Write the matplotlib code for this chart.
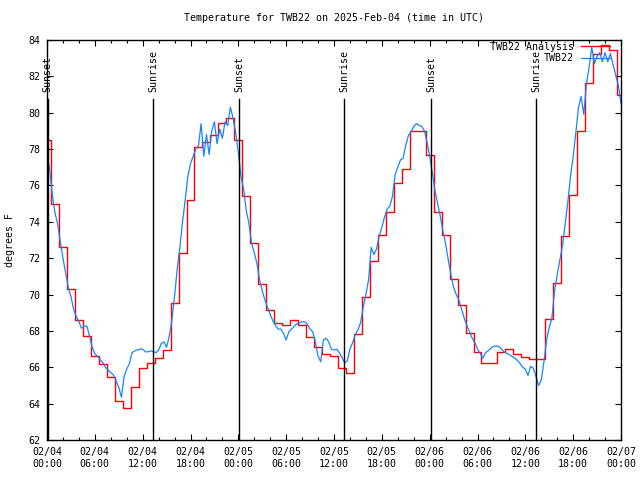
import matplotlib
matplotlib.use("Agg")
import matplotlib.pyplot as plt
import matplotlib.dates as mdates
import matplotlib.transforms as mtransforms
import numpy as np
import pandas as pd

# hourly analysis values (deg F), 2025-02-04 00:00 .. 02-07 00:00 UTC
analysis = [78.5, 75.0, 72.6, 70.3, 68.6, 67.72, 66.62, 66.16, 65.48, 64.15,
            63.74, 64.9, 65.94, 66.22, 66.49, 66.95, 69.52, 72.3, 75.2, 78.1,
            78.37, 78.77, 79.42, 79.7, 78.5, 75.4, 72.82, 70.58, 69.15, 68.42,
            68.33, 68.6, 68.33, 67.65, 67.13, 66.71, 66.62, 65.98, 65.67, 67.81,
            69.85, 71.86, 73.27, 74.56, 76.12, 76.89, 79.02, 79.02, 77.68, 74.52,
            73.27, 70.84, 69.43, 67.87, 66.82, 66.22, 66.22, 66.82, 66.99, 66.71,
            66.55, 66.44, 66.44, 68.66, 70.64, 73.2, 75.5, 79.0, 81.64, 83.23,
            83.75, 83.43, 81.0]

# station observations every 20 minutes
obs = [77.6, 76.9, 75.5, 74.5, 73.9, 72.9, 72.0, 71.2, 70.4, 69.9, 69.2, 68.8,
       68.5, 68.15, 68.25, 68.27, 67.7, 67.1, 66.75, 66.6, 66.43, 66.25, 66.0, 65.85,
       65.7, 65.58, 65.25, 64.9, 64.35, 65.5, 65.9, 66.2, 66.8, 66.9, 66.95, 67.0,
       67.0, 66.85, 66.85, 66.9, 66.86, 66.8, 66.95, 67.3, 67.4, 67.1, 67.7, 68.6,
       69.9, 71.4, 72.6, 74.0, 75.2, 76.5, 77.2, 77.6, 78.0, 78.2, 79.4, 77.6,
       78.8, 77.7, 79.0, 79.5, 78.3, 79.1, 78.6, 79.5, 79.3, 80.3, 79.7, 78.9,
       77.8, 76.5, 75.8, 74.6, 73.9, 72.8, 72.3, 71.7, 70.8, 70.2, 69.7, 69.3,
       68.9, 68.55, 68.3, 68.1, 68.1, 67.85, 67.5, 67.95, 68.1, 68.25, 68.4, 68.45,
       68.5, 68.5, 68.35, 68.1, 67.95, 67.4, 66.6, 66.3, 67.5, 67.6, 67.4, 67.0,
       66.95, 67.0, 66.8, 66.55, 66.25, 66.35, 67.0, 67.35, 67.8, 68.05, 68.45, 69.3,
       70.0, 70.8, 72.6, 72.2, 72.5, 73.2, 73.7, 74.25, 74.7, 74.85, 75.4, 76.6,
       77.0, 77.4, 77.5, 78.2, 78.75, 78.95, 79.25, 79.4, 79.3, 79.25, 79.0, 78.4,
       77.6, 76.7, 75.7, 75.0, 74.3, 73.5, 72.8, 71.9, 71.1, 70.4, 70.0, 69.7,
       69.2, 68.7, 68.3, 67.95, 67.6, 67.35, 67.0, 66.77, 66.5, 66.8, 66.9, 67.05,
       67.15, 67.17, 67.15, 67.0, 66.85, 66.77, 66.7, 66.6, 66.5, 66.38, 66.22, 66.0,
       65.9, 65.55, 66.05, 65.95, 65.5, 65.0, 65.3, 66.3, 67.5, 68.2, 68.7, 70.2,
       71.1, 71.9, 72.7, 73.9, 75.1, 76.5, 77.6, 78.9, 80.3, 80.9, 79.9, 81.6,
       82.5, 83.6, 82.7, 83.1, 83.3, 82.8, 83.3, 82.8, 83.25, 82.65, 82.1, 81.5,
       80.5]

sun_events = ["Sunset", "Sunrise", "Sunset", "Sunrise", "Sunset", "Sunrise"]
sun_times = ["2025-02-04 00:05", "2025-02-04 13:20", "2025-02-05 00:07",
             "2025-02-05 13:17", "2025-02-06 00:11", "2025-02-06 13:22"]

start = pd.Timestamp("2025-02-04 00:00")
t_analysis = pd.date_range(start, periods=len(analysis), freq="h")
t_obs = pd.date_range(start, periods=len(obs), freq="20min")

plt.rcParams["font.family"] = ["DejaVu Sans Mono"]
plt.rcParams["font.size"] = 7.2

fig = plt.figure(figsize=(6.4, 4.8), dpi=100)
ax = fig.add_axes([47 / 640, 40 / 480, 574 / 640, 400 / 480])

ax.plot(t_analysis, analysis, color="#ff0000", lw=1.0, drawstyle="steps-mid",
        label="TWB22 Analysis")
ax.plot(t_obs, obs, color="#1585ff", lw=0.9, label="TWB22")

trans = mtransforms.blended_transform_factory(ax.transData, ax.transAxes)
for name, t in zip(sun_events, sun_times):
    tt = pd.Timestamp(t)
    ax.axvline(tt, ymin=0, ymax=0.8525, color="black", lw=1.0)
    ax.text(tt, 0.87, name, rotation=90, ha="center", va="bottom", transform=trans)

ax.set_xlim(start, start + pd.Timedelta(hours=72))
ax.set_ylim(62, 84)
ax.set_yticks(np.arange(62, 85, 2))
ax.xaxis.set_major_locator(mdates.HourLocator(byhour=range(0, 24, 6)))
ax.xaxis.set_minor_locator(mdates.HourLocator(byhour=range(0, 24, 2)))
ax.xaxis.set_major_formatter(mdates.DateFormatter("%m/%d\n%H:%M"))

ax.tick_params(which="both", direction="in", top=True, right=True, width=0.8)
ax.tick_params(which="major", length=4.5)
ax.tick_params(which="minor", length=2.5)
ax.tick_params(axis="x", pad=5)
ax.tick_params(axis="y", pad=4.5)
for s in ax.spines.values():
    s.set_linewidth(1.0)

ax.set_title("Temperature for TWB22 on 2025-Feb-04 (time in UTC)", fontsize=7.2, pad=14)
ax.set_ylabel("degrees F")
ax.yaxis.set_label_coords(-0.056, 0.5)

ax.legend(loc="upper right", bbox_to_anchor=(0.981, 0.995), frameon=False,
          markerfirst=False, borderpad=0, borderaxespad=0, handlelength=2.9,
          handletextpad=0.7, labelspacing=0.15)

fig.savefig("out.png", dpi=100)
